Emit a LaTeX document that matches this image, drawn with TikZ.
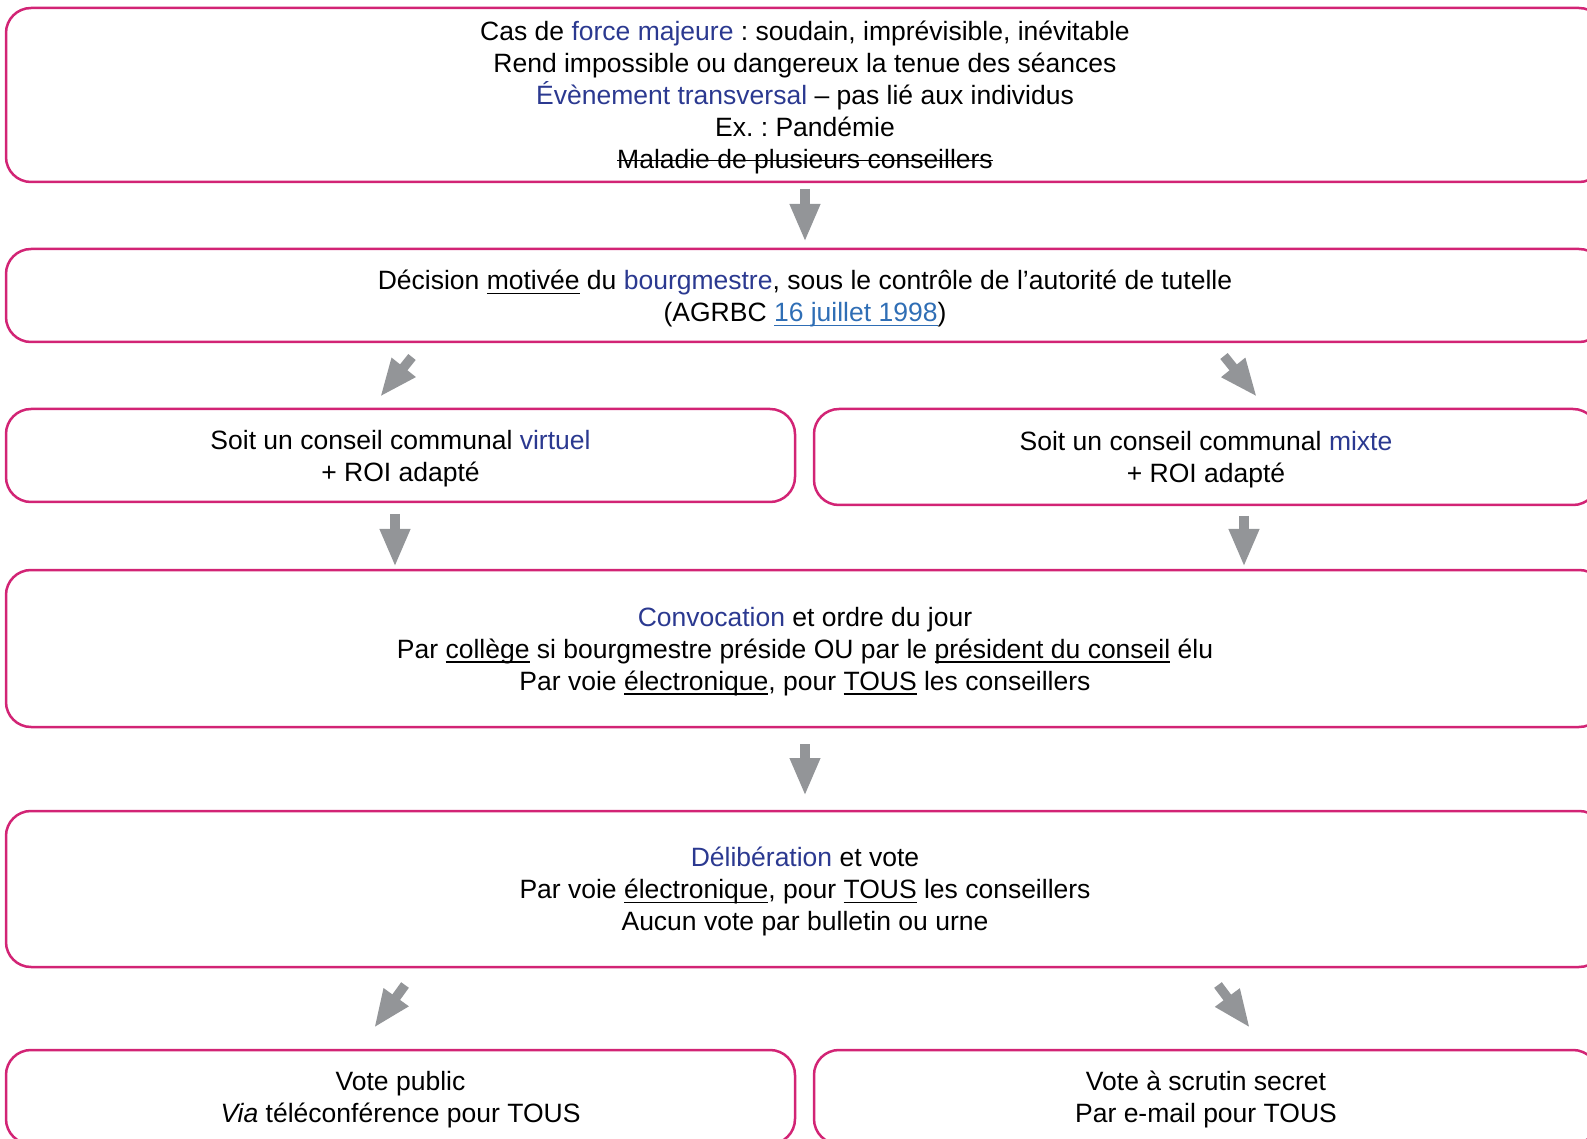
\documentclass[tikz,border=0pt]{standalone}
\usepackage{fontspec}
\setmainfont{Liberation Sans}
\usepackage{xcolor}
\usetikzlibrary{arrows.meta}

\definecolor{framepink}{RGB}{210,36,117}
\definecolor{textblue}{RGB}{43,57,144}
\definecolor{linkblue}{RGB}{47,110,181}
\definecolor{arrowgray}{RGB}{147,149,152}
\newcommand{\kw}[1]{\textcolor{textblue}{#1}}
\newsavebox{\linebox}
\newcommand{\strike}[1]{\sbox{\linebox}{#1}\rlap{\rule[0.3em]{\wd\linebox}{0.6pt}}\usebox{\linebox}}
\newcommand{\undl}[1]{\sbox{\linebox}{#1}\rlap{\rule[-0.17em]{\wd\linebox}{0.6pt}}\usebox{\linebox}}
\frenchspacing

\tikzset{
  box/.style={draw=framepink, line width=1.25pt, rounded corners=12.5pt,
    align=center, inner sep=0pt, text depth=0pt,
    font=\fontsize{13.25}{16}\selectfont},
  flow/.style={draw=arrowgray, line width=4.75pt,
    -{Triangle[width=14pt,length=19pt]}}
}

\begin{document}
\begin{tikzpicture}[x=0.5pt,y=-0.5pt]
            \useasboundingbox (0,0) rectangle (1587,1139);

            % Boxes, one per step
            \node[box, minimum width=799pt, minimum height=87pt] (force) at (805,95)
              {Cas de \kw{force majeure} : soudain, imprévisible, inévitable\\
               Rend impossible ou dangereux la tenue des séances\\
               \kw{Évènement transversal} – pas lié aux individus\\
               Ex. : Pandémie\\
               \strike{Maladie de plusieurs conseillers}};
            \node[box, minimum width=799pt, minimum height=46.5pt] (decision) at (805,295.5)
              {Décision \undl{motivée} du \kw{bourgmestre}, sous le contrôle de l’autorité de tutelle\\
               (AGRBC \textcolor{linkblue}{\undl{16 juillet 1998}})};
            \node[box, minimum width=394.5pt, minimum height=46.5pt] (virtuel) at (400.5,455.5)
              {Soit un conseil communal \kw{virtuel}\\ + ROI adapté};
            \node[box, minimum width=392pt, minimum height=48pt] (mixte) at (1206,457)
              {Soit un conseil communal \kw{mixte}\\ + ROI adapté};
            \node[box, minimum width=799pt, minimum height=78.5pt] (convocation) at (805,648.5)
              {\kw{Convocation} et ordre du jour\\
               Par \undl{collège} si bourgmestre préside OU par le \undl{président du conseil} élu\\
               Par voie \undl{électronique}, pour \undl{TOUS} les conseillers};
            \node[box, minimum width=799pt, minimum height=78pt] (deliberation) at (805,889)
              {\kw{Délibération} et vote\\
               Par voie \undl{électronique}, pour \undl{TOUS} les conseillers\\
               Aucun vote par bulletin ou urne};
            \node[box, minimum width=394.5pt, minimum height=47pt] (public) at (400.5,1097)
              {Vote public\\ \textit{Via} téléconférence pour TOUS};
            \node[box, minimum width=392pt, minimum height=47pt] (secret) at (1206,1097)
              {Vote à scrutin secret\\ Par e-mail pour TOUS};

            % Arrow ends
            \coordinate (a1) at (805,189);     \coordinate (b1) at (805,242);
            \coordinate (a2) at (412,357);     \coordinate (b2) at (380,397);
            \coordinate (a3) at (1224,356);    \coordinate (b3) at (1257,397);
            \coordinate (a4) at (395,514);     \coordinate (b4) at (395,567);
            \coordinate (a5) at (1244,516);    \coordinate (b5) at (1244,567);
            \coordinate (a6) at (805,744);     \coordinate (b6) at (805,796);
            \coordinate (a7) at (405,985);     \coordinate (b7) at (374,1028);
            \coordinate (a8) at (1218,985);    \coordinate (b8) at (1250,1028);

            % Gray block arrows
            \foreach \n in {1,...,8}
              \draw[flow] (a\n) -- (b\n);
        \end{tikzpicture}
\end{document}
